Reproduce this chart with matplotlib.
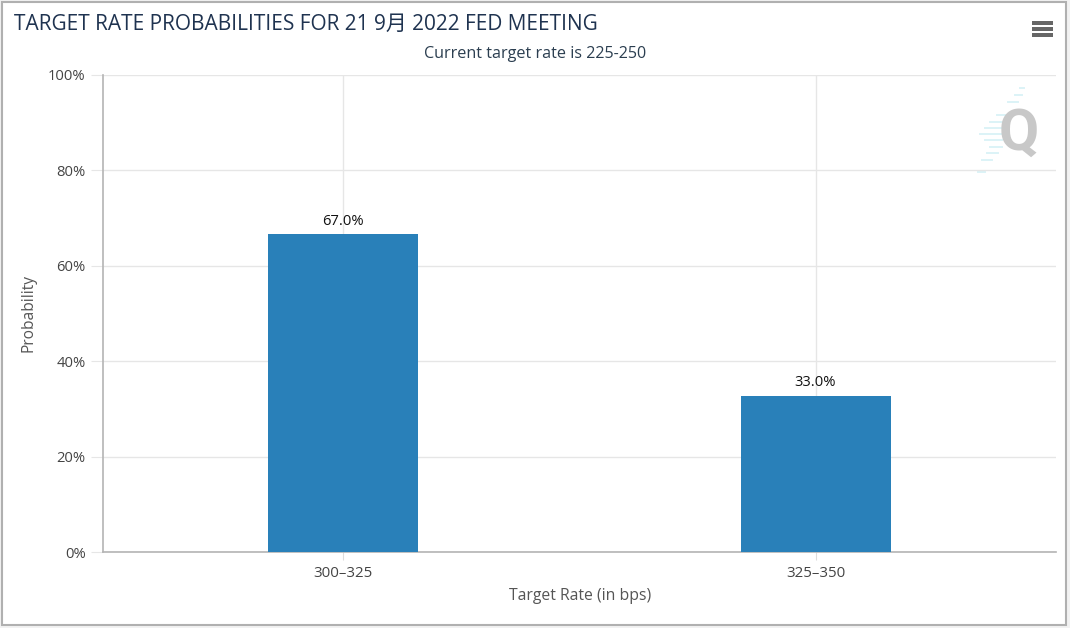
import matplotlib
matplotlib.use('Agg')
import matplotlib.pyplot as plt
from matplotlib.patches import Rectangle

plt.rcParams['font.family'] = ['Open Sans', 'Noto Sans CJK SC', 'DejaVu Sans']

# data
rates = ['300\u2013325', '325\u2013350']
bar_heights = [66.6, 32.8]
bar_labels = ['67.0%', '33.0%']
yticks = [0, 20, 40, 60, 80, 100]

W, H = 1070, 628
fig = plt.figure(figsize=(W / 100, H / 100), dpi=100)

# helper axes in pixels for the frame and decorations
bg = fig.add_axes([0, 0, 1, 1])
bg.set_xlim(0, W)
bg.set_ylim(H, 0)
bg.axis('off')
bg.add_patch(Rectangle((2, 2), 1064, 623, fc='white', ec='#b0b0b0', lw=1.5))

# plot area
ax = fig.add_axes([103 / W, 1 - 552 / H, 953 / W, 477 / H])
ax.set_facecolor('none')
ax.bar(range(2), bar_heights, width=0.3176, color='#2980b9', zorder=3)
ax.set_xlim(-0.5087, 1.5091)
ax.set_ylim(0, 100)

ax.set_xticks(range(2))
ax.set_xticklabels(rates)
ax.set_yticks(yticks)
ax.set_yticklabels([f'{v}%' for v in yticks])
ax.grid(True, color='#e6e6e6', lw=1, zorder=0)
ax.tick_params(axis='x', length=6, color='#dddddd', labelsize=10.8, labelcolor='#444444', pad=4)
ax.tick_params(axis='y', length=8.6, color='#e6e6e6', labelsize=10.6, labelcolor='#444444', pad=4)
for s in ['top', 'right']:
    ax.spines[s].set_visible(False)
for s in ['left', 'bottom']:
    ax.spines[s].set_color('#b4b4b4')
    ax.spines[s].set_linewidth(1.2)

for i, v in enumerate(bar_heights):
    ax.annotate(bar_labels[i], (i, v), xytext=(0, 4), textcoords='offset points',
                ha='center', va='bottom', fontsize=10.6, color='#111111', zorder=4)

bg.text(580, 596, 'Target Rate (in bps)', ha='center', va='center', fontsize=11.3, color='#555555')
bg.text(29, 313, 'Probability', ha='center', va='center', rotation=90, fontsize=11.2, color='#555555')

bg.text(14, 24.5, 'TARGET RATE PROBABILITIES FOR 21 9月 2022 FED MEETING',
        ha='left', va='center', fontsize=15.05, color='#1f3350')
bg.text(535, 53.5, 'Current target rate is 225-250', ha='center', va='center',
        fontsize=11.6, color='#2b3e50')

# menu icon
for y in [23, 29, 35]:
    bg.add_patch(Rectangle((1032, y - 1.7), 21, 3.4, fc='#666666', ec='none'))

# watermark
for y, x0, x1 in [(88, 1020, 1024), (95, 1015, 1022), (102, 1008, 1018), (115, 997, 1006),
                  (122, 990, 1002), (128, 985, 1002), (134, 980, 1002), (140, 985, 1002),
                  (147, 990, 1002), (153, 987, 998), (160, 982, 992), (172, 978, 985)]:
    bg.plot([x0, x1], [y, y], color='#dcf3f7', lw=1.4, zorder=1)
bg.text(1019, 134, 'Q', ha='center', va='center', fontsize=42, fontweight='bold',
        color='#c8c8c8', family=['Roboto'], zorder=1)

fig.savefig('out.png', dpi=100, facecolor='#f2f2f2')
